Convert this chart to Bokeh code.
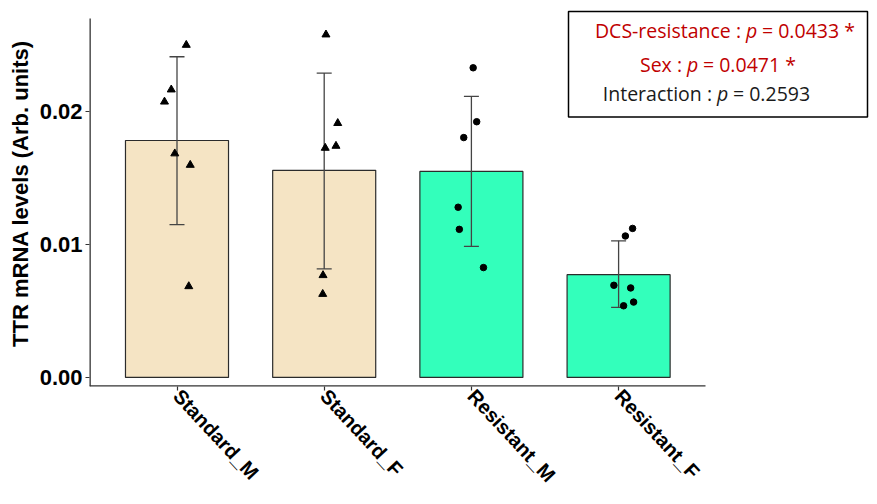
from bokeh.plotting import figure
from bokeh.models import Range1d, FixedTicker, ColumnDataSource, Whisker, Label, BoxAnnotation
from bokeh.embed import file_html
from bokeh.resources import INLINE

# ---- data ----
groups = ["Standard_M", "Standard_F", "Resistant_M", "Resistant_F"]
means = [0.01779, 0.01555, 0.01547, 0.00772]
err_upper = [0.02408, 0.02285, 0.02111, 0.01026]
err_lower = [0.01147, 0.00815, 0.00984, 0.00526]
bar_colors = ["#F5E4C4", "#F5E4C4", "#33FFBB", "#33FFBB"]

std_m = [0.02496, 0.02161, 0.02070, 0.01681, 0.01595, 0.00684]
std_m_jit = [0.063, -0.039, -0.085, -0.015, 0.090, 0.080]
std_f = [0.02574, 0.01909, 0.01723, 0.01738, 0.00767, 0.00626]
std_f_jit = [0.012, 0.092, 0.007, 0.080, -0.008, -0.010]
res_m = [0.02325, 0.01920, 0.01801, 0.01278, 0.01112, 0.00825]
res_m_jit = [0.012, 0.036, -0.052, -0.090, -0.082, 0.082]
res_f = [0.01119, 0.01062, 0.00692, 0.00672, 0.00566, 0.00538]
res_f_jit = [0.095, 0.046, -0.032, 0.082, 0.102, 0.034]

y_ticks = [0.0, 0.01, 0.02]
y_tick_labels = ["0.00", "0.01", "0.02"]

stats = [
    ("DCS-resistance :", "= 0.0433 *", "#C00000"),
    ("Sex :", "= 0.0471 *", "#C00000"),
    ("Interaction :", "= 0.2593", "#1a1a1a"),
]


# helpers converting reference-image pixels to data coords (layout only)
def sx(px):
    return 1 + (px - 176.5) / 147.2


def sy(py):
    return (375 - py) / 13250.0


W, H = 869, 496
X0, X1 = sx(89), sx(W)
Y0, Y1 = sy(384), sy(0)

xpos = [i + 1 for i in range(len(groups))]
p = figure(width=W, height=H, output_backend="svg", toolbar_location=None,
           x_range=Range1d(X0, X1), y_range=Range1d(Y0, Y1),
           min_border_left=89, min_border_right=0, min_border_top=0, min_border_bottom=100)
p.outline_line_color = None
p.xgrid.visible = False
p.ygrid.visible = False
p.background_fill_color = "white"

src = ColumnDataSource(dict(x=xpos, top=means, up=err_upper, lo=err_lower, color=bar_colors))
p.vbar(x="x", top="top", bottom=0, width=0.70, fill_color="color", line_color="#2b2b2b",
       line_width=1.2, source=src)

wh = Whisker(base="x", upper="up", lower="lo", source=src, line_color="#444444", line_width=1.3,
             level="annotation")
for hd in (wh.upper_head, wh.lower_head):
    hd.size = 15
    hd.line_color = "#444444"
    hd.line_width = 1.3
p.add_layout(wh)

for i, (vals, jit) in enumerate([(std_m, std_m_jit), (std_f, std_f_jit)]):
    p.scatter([xpos[i] + j for j in jit], vals, marker="triangle", size=8,
              fill_color="black", line_color="black", level="overlay")
for i, (vals, jit) in enumerate([(res_m, res_m_jit), (res_f, res_f_jit)]):
    p.scatter([xpos[i + 2] + j for j in jit], vals, marker="circle", size=6.5,
              fill_color="black", line_color="black", level="overlay")

# axis lines drawn as frame-edge segments so they can stop short of the frame
p.segment(x0=[X0], y0=[Y0], x1=[sx(705)], y1=[Y0], line_color="#333333", line_width=2.6)
p.segment(x0=[X0], y0=[Y0], x1=[X0], y1=[sy(18)], line_color="#333333", line_width=2.6)

for ax in (p.xaxis[0], p.yaxis[0]):
    ax.axis_line_color = None
    ax.major_tick_line_color = "#333333"
    ax.major_tick_line_width = 1.2
    ax.major_tick_in = 0
    ax.major_tick_out = 4
    ax.minor_tick_line_color = None
    ax.major_label_text_font = "Liberation Sans"
    ax.major_label_text_font_style = "bold"
    ax.major_label_text_color = "black"

p.xaxis.ticker = FixedTicker(ticks=xpos)
p.xaxis.major_label_overrides = {x: g for x, g in zip(xpos, groups)}
p.xaxis.major_label_orientation = -0.82
p.xaxis.major_label_text_font_size = "20px"
p.xaxis.major_label_standoff = 2

p.yaxis.ticker = FixedTicker(ticks=y_ticks)
p.yaxis.major_label_overrides = {t: l for t, l in zip(y_ticks, y_tick_labels)}
p.yaxis.major_label_text_font_size = "22px"
p.yaxis.major_label_standoff = 3
p.yaxis.axis_label = "TTR mRNA levels (Arb. units)"
p.yaxis.axis_label_text_font = "Liberation Sans"
p.yaxis.axis_label_text_font_style = "bold"
p.yaxis.axis_label_text_font_size = "22px"
p.yaxis.axis_label_text_color = "black"
p.yaxis.axis_label_standoff = 4

box = BoxAnnotation(left=sx(568), right=sx(867), top=sy(11), bottom=sy(116),
                    fill_color="white", fill_alpha=1.0, line_color="black", line_alpha=1.0,
                    line_width=1.5, level="overlay")
p.add_layout(box)

line_pos = [(740.5, 745.5, 761.5, 30), (681.5, 686.5, 702.5, 64), (711.5, 716.5, 732.5, 93)]
for (left_t, right_t, col), (lx, px_, rx, by) in zip(stats, line_pos):
    for txt, x, align, style in [(left_t, lx, "right", "normal"), ("p", px_, "left", "italic"),
                                 (right_t, rx, "left", "normal")]:
        p.add_layout(Label(x=sx(x), y=sy(by), text=txt, text_align=align,
                           text_baseline="alphabetic", text_font="Open Sans",
                           text_font_size="19.5px", text_font_style=style,
                           text_color=col, level="overlay"))

open("out.html", "w").write(file_html(p, INLINE))
